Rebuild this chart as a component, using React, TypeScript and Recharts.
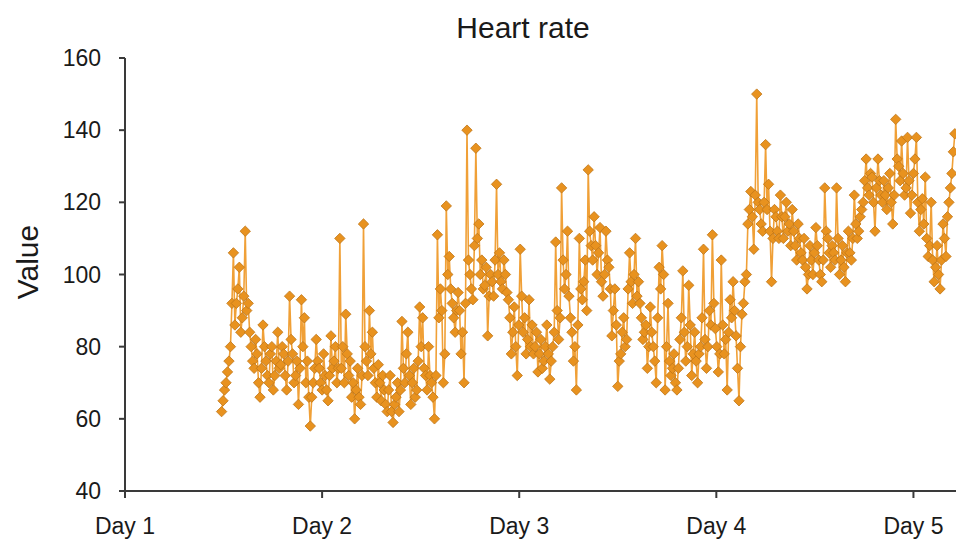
import React from "react";
import { LineChart, Line, XAxis, YAxis } from "recharts";

// Heart rate samples (bpm), evenly spaced in time
const START_DAY = 1.49;
const STEP_DAY = 0.0075;
const HEART_RATE = [
  62, 65, 68, 70, 73, 76, 80, 92, 106, 86, 92, 96, 102, 84, 88, 94, 112, 90, 92, 84,
  80, 76, 74, 82, 78, 70, 66, 74, 86, 80, 76, 72, 70, 78, 80, 68, 72, 76, 84, 74,
  75, 80, 78, 72, 68, 76, 94, 82, 78, 70, 72, 76, 64, 74, 93, 80, 88, 70, 76, 66,
  58, 66, 70, 74, 82, 76, 74, 70, 68, 78, 72, 68, 65, 72, 83, 74, 76, 80, 70, 74,
  110, 74, 80, 70, 89, 78, 72, 76, 66, 70, 60, 68, 74, 66, 64, 72, 114, 80, 76, 72,
  90, 78, 84, 74, 70, 66, 75, 70, 65, 72, 68, 64, 62, 68, 72, 62, 59, 64, 66, 70,
  62, 68, 87, 74, 70, 78, 84, 72, 64, 70, 74, 66, 68, 76, 91, 80, 88, 74, 72, 68,
  80, 72, 70, 66, 60, 72, 111, 88, 96, 90, 70, 78, 119, 100, 105, 96, 92, 88, 84, 90,
  95, 90, 78, 84, 70, 92, 140, 104, 100, 96, 93, 108, 135, 110, 114, 100, 104, 96, 97, 102,
  83, 94, 100, 98, 94, 104, 125, 100, 106, 98, 96, 104, 100, 95, 93, 88, 78, 84, 91, 80,
  72, 86, 107, 94, 84, 88, 78, 82, 93, 80, 86, 78, 80, 84, 73, 78, 82, 74, 76, 80,
  86, 78, 71, 76, 80, 84, 109, 90, 82, 88, 124, 104, 96, 100, 112, 94, 88, 84, 76, 80,
  68, 86, 110, 96, 93, 98, 104, 90, 129, 112, 108, 104, 116, 108, 100, 106, 113, 98, 94, 100,
  112, 104, 102, 96, 83, 90, 96, 86, 69, 76, 78, 84, 88, 80, 82, 96, 106, 98, 92, 100,
  110, 94, 98, 92, 88, 82, 84, 86, 74, 80, 91, 84, 80, 76, 70, 88, 102, 96, 108, 100,
  68, 80, 92, 76, 72, 74, 78, 70, 68, 74, 82, 88, 101, 84, 76, 80, 97, 86, 72, 78,
  84, 76, 70, 78, 80, 88, 107, 82, 74, 80, 90, 86, 111, 92, 85, 80, 73, 78, 104, 86,
  78, 82, 68, 84, 93, 88, 98, 90, 83, 74, 65, 80, 89, 92, 98, 100, 114, 118, 123, 116,
  107, 122, 150, 120, 118, 114, 112, 120, 136, 118, 125, 112, 98, 110, 118, 116, 112, 110, 122, 116,
  110, 116, 120, 112, 114, 108, 118, 112, 108, 104, 114, 110, 106, 104, 110, 102, 96, 100, 108, 104,
  100, 106, 113, 108, 104, 100, 98, 104, 124, 112, 110, 106, 102, 108, 106, 104, 124, 110, 100, 104,
  108, 102, 98, 106, 112, 106, 104, 110, 122, 114, 110, 112, 116, 118, 120, 126, 132, 124, 122, 128,
  127, 120, 112, 124, 132, 126, 122, 120, 126, 122, 118, 124, 128, 120, 114, 122, 143, 132, 130, 126,
  137, 128, 122, 124, 138, 126, 117, 122, 128, 132, 138, 120, 112, 118, 121, 114, 127, 110, 105, 108,
  120, 104, 98, 102, 108, 100, 96, 104, 114, 110, 105, 116, 120, 124, 128, 134, 139,
];
const DAY_TICKS = [1, 2, 3, 4, 5];
const VALUE_TICKS = [40, 60, 80, 100, 120, 140, 160];

const data = HEART_RATE.map((v, i) => ({ t: START_DAY + i * STEP_DAY, hr: v }));

const Diamond = (props: any) => {
  const { cx, cy, index } = props;
  if (cx == null || cy == null) return <g key={index} />;
  const r = 5.2;
  return (
    <path
      key={index}
      d={`M${cx},${cy - r}L${cx + r},${cy}L${cx},${cy + r}L${cx - r},${cy}Z`}
      fill="#E8921F"
      stroke="#BF7618"
      strokeWidth={0.8}
    />
  );
};

const font = "'Liberation Sans', Arial, sans-serif";

export default function App() {
  return (
    <div
      style={{
        position: "fixed",
        left: 0,
        top: 0,
        width: 956,
        height: 548,
        overflow: "hidden",
        background: "#fff",
        fontFamily: font,
      }}
    >
      <div
        style={{
          position: "absolute",
          left: 0,
          width: 1046,
          top: 11,
          textAlign: "center",
          fontSize: 30,
          color: "#1a1a1a",
        }}
      >
        Heart rate
      </div>
      <div
        style={{
          position: "absolute",
          left: 28,
          top: 262,
          transform: "translate(-50%, -50%) rotate(-90deg)",
          fontSize: 30,
          color: "#1a1a1a",
          whiteSpace: "nowrap",
        }}
      >
        Value
      </div>
      <LineChart
        width={1012}
        height={548}
        data={data}
        margin={{ top: 58, right: 0, bottom: 27, left: 65 }}
      >
        <XAxis
          dataKey="t"
          type="number"
          domain={[1, 5.5]}
          ticks={DAY_TICKS}
          allowDataOverflow
          tickFormatter={(v) => `Day ${v}`}
          height={30}
          tickSize={7}
          tickMargin={20}
          axisLine={{ stroke: "#3a3a3a", strokeWidth: 2 }}
          tickLine={{ stroke: "#3a3a3a", strokeWidth: 2 }}
          tick={{ fill: "#1a1a1a", fontSize: 23, fontFamily: font }}
        />
        <YAxis
          type="number"
          domain={[40, 160]}
          ticks={VALUE_TICKS}
          width={60}
          tickSize={6}
          tickMargin={18}
          axisLine={{ stroke: "#3a3a3a", strokeWidth: 2 }}
          tickLine={{ stroke: "#3a3a3a", strokeWidth: 2 }}
          tick={{ fill: "#1a1a1a", fontSize: 23, fontFamily: font }}
        />
        <Line
          dataKey="hr"
          type="linear"
          stroke="#F0A037"
          strokeWidth={1.6}
          dot={Diamond}
          activeDot={false}
          isAnimationActive={false}
        />
      </LineChart>
    </div>
  );
}
